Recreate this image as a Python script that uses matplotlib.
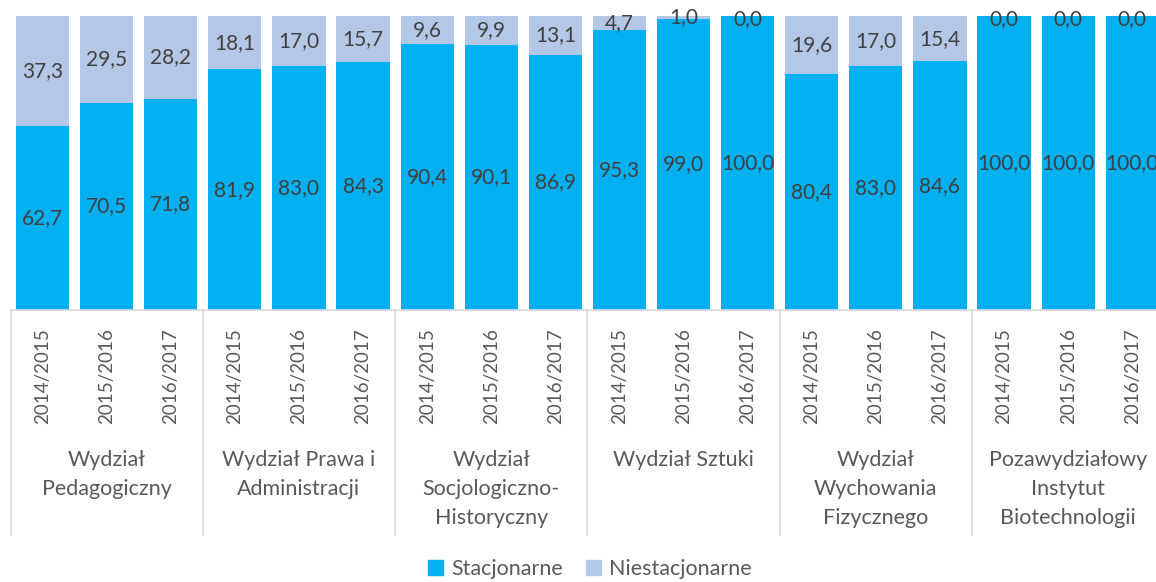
import matplotlib.pyplot as plt
from matplotlib.patches import Patch
from matplotlib.transforms import blended_transform_factory

plt.rcParams['font.family'] = ['Lato', 'DejaVu Sans']

# data
faculties = ['Wydział\nPedagogiczny', 'Wydział Prawa i\nAdministracji',
             'Wydział\nSocjologiczno-\nHistoryczny', 'Wydział Sztuki',
             'Wydział\nWychowania\nFizycznego',
             'Pozawydziałowy\nInstytut\nBiotechnologii']
years = ['2014/2015', '2015/2016', '2016/2017']
stacjonarne = [62.7, 70.5, 71.8, 81.9, 83.0, 84.3, 90.4, 90.1, 86.9,
               95.3, 99.0, 100.0, 80.4, 83.0, 84.6, 100.0, 100.0, 100.0]
niestacjonarne = [37.3, 29.5, 28.2, 18.1, 17.0, 15.7, 9.6, 9.9, 13.1,
                  4.7, 1.0, 0.0, 19.6, 17.0, 15.4, 0.0, 0.0, 0.0]

blue = '#00B0F0'
lav = '#B4C7E7'
txt = '#404040'
grid = '#D9D9D9'

fig = plt.figure(figsize=(11.56, 5.82), dpi=100)
ax = fig.add_axes([10.5 / 1156, 1 - 310 / 582, 1 - 10.5 / 1156, 294 / 582])

x = list(range(len(stacjonarne)))
ax.bar(x, stacjonarne, width=0.83, color=blue)
ax.bar(x, niestacjonarne, width=0.83, bottom=stacjonarne, color=lav)

def fmt(v):
    return f'{v:.1f}'.replace('.', ',')

for i, (s, n) in enumerate(zip(stacjonarne, niestacjonarne)):
    ax.text(i, s / 2, fmt(s), ha='center', va='center', fontsize=15, color=txt)
    ax.text(i, s + n / 2 if n > 0 else 99.0, fmt(n), ha='center', va='center',
            fontsize=15, color=txt, clip_on=False)

ax.set_xlim(-0.5, (1156 - 10.5) / 64.1 - 0.5)
ax.set_ylim(0, 100)
ax.set_xticks([])
ax.set_yticks([])
for side in ['top', 'left', 'right']:
    ax.spines[side].set_visible(False)
ax.spines['bottom'].set_color(grid)
ax.spines['bottom'].set_linewidth(1.2)

trans = blended_transform_factory(ax.transData, ax.transAxes)
px = 1 / 294
for i in x:
    ax.text(i, -18 * px, years[i % 3], rotation=90, ha='center', va='top',
            fontsize=13.5, color='#595959', transform=trans)
for g, name in enumerate(faculties):
    ax.text(g * 3 + 1, -140 * px, name, ha='center', va='top', fontsize=15.5,
            color='#595959', linespacing=1.55, transform=trans)
for g in range(len(faculties) + 1):
    ax.plot([g * 3 - 0.5] * 2, [0, -225 * px], color=grid, lw=1.2,
            transform=trans, clip_on=False)

handles = [Patch(color=blue, label='Stacjonarne'),
           Patch(color=lav, label='Niestacjonarne')]
fig.legend(handles=handles, loc='center', bbox_to_anchor=(590 / 1156, 1 - 569 / 582),
           ncol=2, frameon=False, fontsize=15.5, handlelength=0.7, handleheight=0.7,
           handletextpad=0.35, columnspacing=1.1, labelcolor='#595959')

fig.savefig('out.png', dpi=100)
